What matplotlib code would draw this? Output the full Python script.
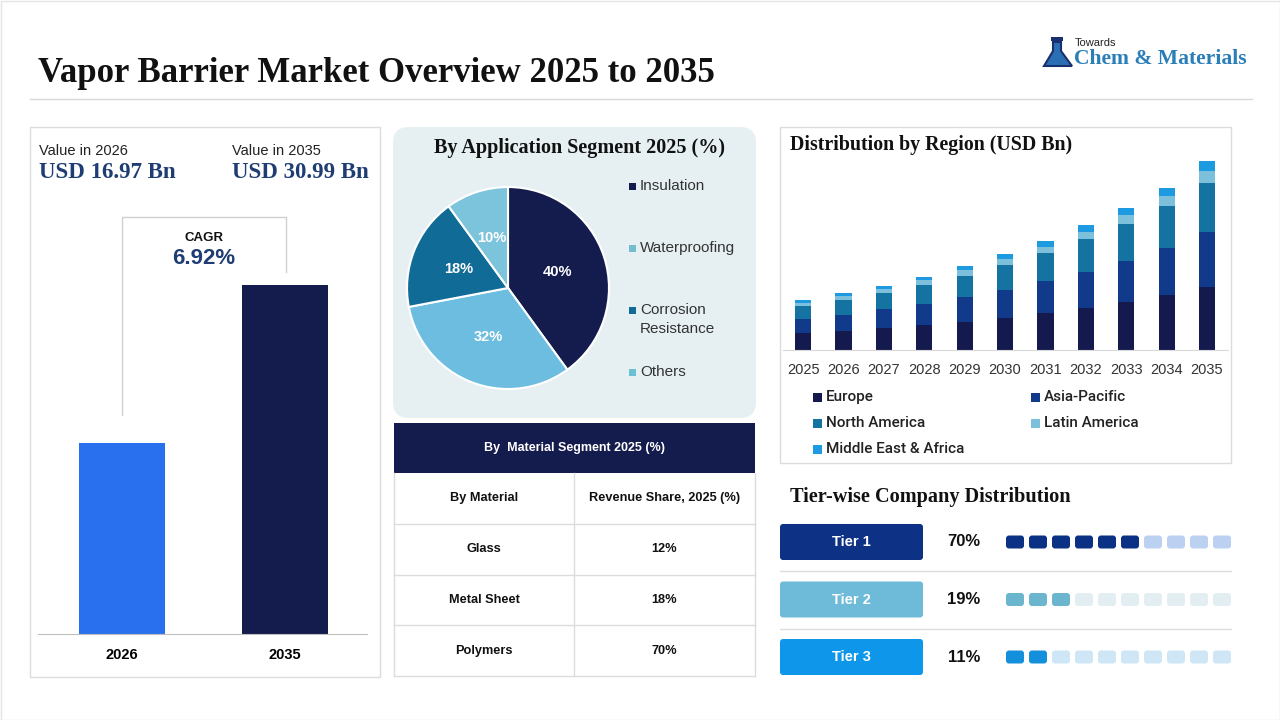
import matplotlib
matplotlib.use("Agg")
import matplotlib.pyplot as plt
from matplotlib.patches import Rectangle, FancyBboxPatch, Polygon

plt.rcParams['font.family'] = ['Liberation Sans', 'DejaVu Sans']
SERIF = ['Liberation Serif', 'DejaVu Serif']

W, H = 1280, 720

# ---- data ----
value_years = ['2026', '2035']
market_values = [16.97, 30.99]
value_labels = ['USD 16.97 Bn', 'USD 30.99 Bn']
cagr = '6.92%'

app_labels = ['Insulation', 'Waterproofing', 'Corrosion\nResistance', 'Others']
app_shares = [40, 32, 18, 10]
app_colors = ['#141b4d', '#6dbde0', '#116b97', '#7cc4dc']
app_legend_colors = ['#141b4d', '#74bccf', '#116b97', '#6cc0d4']

materials = ['Glass', 'Metal Sheet', 'Polymers']
material_shares = ['12%', '18%', '70%']

years = ['2025', '2026', '2027', '2028', '2029', '2030', '2031', '2032', '2033', '2034', '2035']
regions = ['Europe', 'Asia-Pacific', 'North America', 'Latin America', 'Middle East & Africa']
europe = [2.84, 3.06, 3.61, 4.10, 4.59, 5.30, 6.01, 6.89, 7.87, 9.02, 10.33]
asia_pacific = [2.24, 2.68, 3.11, 3.44, 4.10, 4.54, 5.30, 5.90, 6.72, 7.70, 9.02]
north_america = [2.19, 2.51, 2.68, 3.11, 3.44, 4.10, 4.59, 5.41, 6.07, 6.89, 8.03]
latin_america = [0.49, 0.66, 0.60, 0.77, 0.93, 0.93, 0.98, 1.15, 1.48, 1.64, 1.97]
mea = [0.44, 0.49, 0.49, 0.55, 0.71, 0.87, 0.98, 1.15, 1.15, 1.37, 1.64]
region_colors = ['#141a4d', '#123a8a', '#1473a0', '#7cc0dc', '#1e9be0']

tiers = ['Tier 1', 'Tier 2', 'Tier 3']
tier_shares = ['70%', '19%', '11%']
tier_filled = [6, 3, 2]
tier_colors = ['#0d3185', '#6dbbd8', '#0e97ea']
tier_dot_on = ['#0a3183', '#6cb5cf', '#148fdc']
tier_dot_off = ['#bcd0f2', '#e3eef2', '#cfe6f6']

NAVY = '#141b4d'
DARKBLUE = '#1f3d73'
GRID = '#dcdcdc'

fig = plt.figure(figsize=(12.8, 7.2), dpi=100)
fig.patch.set_facecolor('white')

bg = fig.add_axes([0, 0, 1, 1])
bg.set_xlim(0, W)
bg.set_ylim(H, 0)
bg.axis('off')


def px_axes(x0, y0, x1, y1):
    return fig.add_axes([x0 / W, 1 - y1 / H, (x1 - x0) / W, (y1 - y0) / H])


# outer frame, title, rule
bg.add_patch(Rectangle((0.5, 0.5), W - 1, H - 1, fill=False, ec='#e4e4e4', lw=1))
bg.text(38, 74, 'Vapor Barrier Market Overview 2025 to 2035', family=SERIF,
        fontweight='bold', fontsize=25, va='center', ha='left', color='#111111')
bg.plot([30, 1252], [99, 99], color='#d9d9d9', lw=1)

# logo
bg.add_patch(Polygon([[1053, 42], [1061, 42], [1061, 51], [1072, 66], [1044, 66], [1053, 51]],
                     closed=True, fc='#2a6fb3', ec='#1a2f6e', lw=1.5))
bg.add_patch(Rectangle((1051, 37), 12, 4, fc='#1a2f6e', ec='none'))
bg.text(1075, 43, 'Towards', fontsize=8, va='center', ha='left', color='#222222')
bg.text(1074, 59, 'Chem & Materials', family=SERIF, fontweight='bold', fontsize=15.6,
        va='center', ha='left', color='#2b7fb8')

# ---- left panel: market value ----
bg.add_patch(Rectangle((30, 127), 350, 550, fill=False, ec=GRID, lw=1))
for x, yr, lab in zip([39, 232], value_years, value_labels):
    bg.text(x, 151, f'Value in {yr}', fontsize=10.5, va='center', ha='left', color='#222222')
    bg.text(x, 173, lab, family=SERIF, fontweight='bold', fontsize=16.5,
            va='center', ha='left', color=DARKBLUE)
bg.plot([122, 122, 286, 286], [415, 217, 217, 272], color='#d0d0d0', lw=1)
bg.text(204, 238, 'CAGR', fontsize=9.5, fontweight='bold', ha='center', va='center', color='#111111')
bg.text(204, 259, cagr, fontsize=16, fontweight='bold', ha='center', va='center', color=DARKBLUE)

axv = px_axes(38, 285, 367, 634)
axv.bar(range(len(value_years)), market_values, width=0.53, color=['#2970ef', NAVY])
axv.set_xlim(-0.515, 1.503)
axv.set_ylim(0, 30.99)
axv.set_xticks(range(len(value_years)))
axv.set_xticklabels(value_years, fontsize=10.5, fontweight='bold')
axv.tick_params(axis='x', length=0, pad=10)
axv.set_yticks([])
for s in ['top', 'left', 'right']:
    axv.spines[s].set_visible(False)
axv.spines['bottom'].set_color('#bfbfbf')
axv.patch.set_alpha(0)

# ---- application pie ----
bg.add_patch(FancyBboxPatch((393, 127), 363, 291, boxstyle='round,pad=0,rounding_size=16',
                            fc='#e6f0f3', ec='none'))
bg.text(579, 148, 'By Application Segment 2025 (%)', family=SERIF, fontweight='bold',
        fontsize=14.5, ha='center', va='center', color='#111111')
axp = px_axes(405, 185, 611, 391)
axp.pie(app_shares, colors=app_colors, startangle=90, counterclock=False,
        autopct=lambda p: f'{p:.0f}%', pctdistance=0.52,
        wedgeprops=dict(edgecolor='white', linewidth=1.5),
        textprops=dict(color='white', fontweight='bold', fontsize=10.5))
axp.set_xlim(-1.02, 1.02)
axp.set_ylim(-1.02, 1.02)
for i, (lab, c) in enumerate(zip(app_labels, app_legend_colors)):
    y = 186 + 62 * i
    bg.add_patch(Rectangle((629, y - 3.5), 7, 7, fc=c, ec='none'))
    bg.text(640, y - 7, lab, fontsize=11, ha='left', va='top', color='#333333', linespacing=1.45)

# ---- material table ----
tx0, tx1, txm = 394, 755, 574
bg.add_patch(Rectangle((tx0, 423), tx1 - tx0, 50, fc=NAVY, ec='none'))
bg.text((tx0 + tx1) / 2, 448, 'By  Material Segment 2025 (%)', fontsize=9, fontweight='bold',
        color='white', ha='center', va='center')
row_h = 50.8
rows = [('By Material', 'Revenue Share, 2025 (%)')] + list(zip(materials, material_shares))
for i, (a, b) in enumerate(rows):
    top = 473 + row_h * i
    bg.text((tx0 + txm) / 2, top + row_h / 2, a, fontsize=9.2, fontweight='bold',
            ha='center', va='center', color='#111111')
    bg.text((txm + tx1) / 2, top + row_h / 2, b, fontsize=9.2, fontweight='bold',
            ha='center', va='center', color='#111111')
    bg.plot([tx0, tx1], [top + row_h, top + row_h], color=GRID, lw=1)
for x in [tx0, txm, tx1]:
    bg.plot([x, x], [473, 473 + row_h * len(rows)], color=GRID, lw=1)

# ---- distribution by region ----
bg.add_patch(Rectangle((780, 127), 451, 336, fill=False, ec=GRID, lw=1))
bg.text(790, 145, 'Distribution by Region (USD Bn)', family=SERIF, fontweight='bold',
        fontsize=14.3, ha='left', va='center', color='#111111')
axr = px_axes(783, 150, 1228, 350)
series = [europe, asia_pacific, north_america, latin_america, mea]
bottom = [0] * len(years)
for vals, c in zip(series, region_colors):
    axr.bar(range(len(years)), vals, bottom=bottom, width=0.4, color=c)
    bottom = [b + v for b, v in zip(bottom, vals)]
axr.set_xlim(-0.5, 10.52)
axr.set_ylim(0, 32.8)
axr.set_xticks(range(len(years)))
axr.set_xticklabels(years, fontsize=10.5, color='#333333')
axr.tick_params(axis='x', length=0, pad=9)
axr.set_yticks([])
for s in ['top', 'left', 'right']:
    axr.spines[s].set_visible(False)
axr.spines['bottom'].set_color('#d9d9d9')
axr.patch.set_alpha(0)
for i, (reg, c) in enumerate(zip(regions, region_colors)):
    x = [813, 1031][i % 2]
    y = 397 + 26 * (i // 2)
    bg.add_patch(Rectangle((x, y - 4.5), 9, 9, fc=c, ec='none'))
    bg.text(x + 13, y, reg, fontsize=11, ha='left', va='center', color='#222222',
            family=['Roboto', 'Liberation Sans'], fontweight='medium')

# ---- tier-wise ----
bg.text(790, 497, 'Tier-wise Company Distribution', family=SERIF, fontweight='bold',
        fontsize=14.6, ha='left', va='center', color='#111111')
for i, (t, share) in enumerate(zip(tiers, tier_shares)):
    yc = 542 + 57.5 * i
    bg.add_patch(FancyBboxPatch((780, yc - 18), 143, 36, boxstyle='round,pad=0,rounding_size=3',
                                fc=tier_colors[i], ec='none'))
    bg.text(851, yc, t, fontsize=10.5, fontweight='bold', color='white', ha='center', va='center')
    bg.text(964, yc, share, fontsize=12, fontweight='bold', color='#111111', ha='center', va='center')
    for j in range(10):
        c = tier_dot_on[i] if j < tier_filled[i] else tier_dot_off[i]
        bg.add_patch(FancyBboxPatch((1006 + 23 * j, yc - 6.5), 18, 13,
                                    boxstyle='round,pad=0,rounding_size=3', fc=c, ec='none'))
    if i < len(tiers) - 1:
        bg.plot([780, 1231], [yc + 29, yc + 29], color='#dddddd', lw=1)

fig.savefig('out.png', dpi=100, facecolor='white')
